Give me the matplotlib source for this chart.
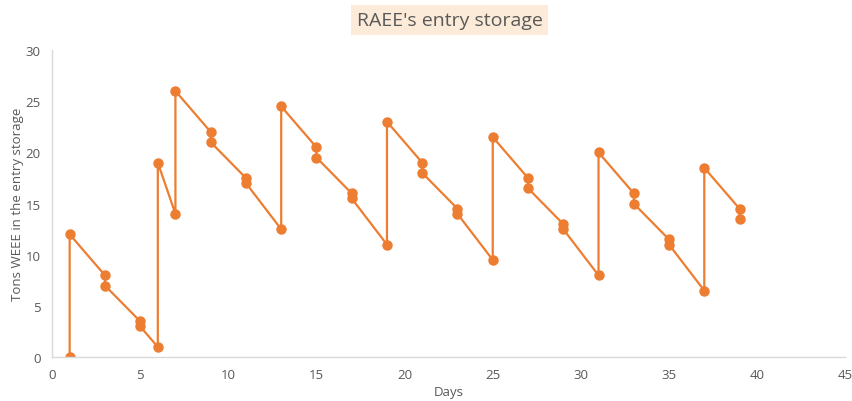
import matplotlib.pyplot as plt

# storage level at each day (two readings per day: before/after movement)
days = [1, 1, 3, 3, 5, 5, 6, 6, 7, 7, 9, 9, 11, 11, 13, 13, 15, 15, 17, 17,
        19, 19, 21, 21, 23, 23, 25, 25, 27, 27, 29, 29, 31, 31, 33, 33, 35, 35,
        37, 37, 39, 39]
tons = [0, 12, 8, 7, 3.5, 3, 1, 19, 14, 26, 22, 21, 17.5, 17, 12.5, 24.5, 20.5, 19.5, 16, 15.5,
        11, 23, 19, 18, 14.5, 14, 9.5, 21.5, 17.5, 16.5, 13, 12.5, 8, 20, 16, 15, 11.5, 11,
        6.5, 18.5, 14.5, 13.5]

x_ticks = [0, 5, 10, 15, 20, 25, 30, 35, 40, 45]
y_ticks = [0, 5, 10, 15, 20, 25, 30]

plt.rcParams['font.family'] = ['Open Sans', 'DejaVu Sans']

fig = plt.figure(figsize=(8.53, 4.02), dpi=100)
ax = fig.add_axes([0.061, 0.109, 0.93, 0.764])

ax.plot(days, tons, color='#ED7D31', linewidth=1.6, marker='o', markersize=6.5)

ax.set_xlim(0, 45)
ax.set_ylim(0, 30)
ax.set_xticks(x_ticks)
ax.set_yticks(y_ticks)
ax.tick_params(length=0, labelsize=9.5, colors='#595959', pad=8)

for side in ['top', 'right']:
    ax.spines[side].set_visible(False)
for side in ['left', 'bottom']:
    ax.spines[side].set_color('#D9D9D9')
    ax.spines[side].set_linewidth(1.0)

ax.set_xlabel('Days', fontsize=9.5, color='#595959', labelpad=3)
ax.set_ylabel('Tons WEEE in the entry storage', fontsize=9.5, color='#595959', labelpad=1)

fig.text(0.527, 0.947, "RAEE's entry storage", ha='center', va='center', fontsize=14,
         color='#595959',
         bbox=dict(facecolor='#FCEBD9', edgecolor='none', boxstyle='square,pad=0.3'))

fig.savefig('out.png', dpi=100)
